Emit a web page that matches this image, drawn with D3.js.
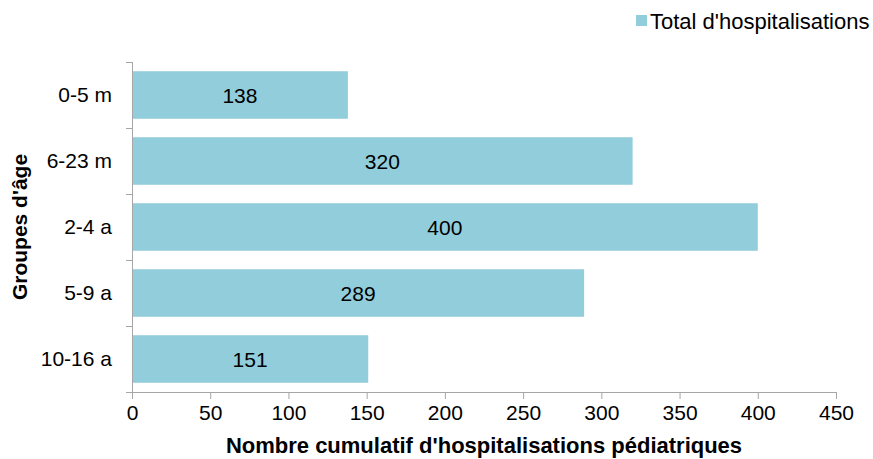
<!DOCTYPE html>
<html>
<head>
<meta charset="utf-8">
<script src="https://cdn.jsdelivr.net/npm/d3@7"></script>
<style>
  body { margin: 0; background: #fff; }
  text { font-family: "Liberation Sans", Arial, sans-serif; }
</style>
</head>
<body>
<div id="chart"></div>
<script>
var categories = ["0-5 m", "6-23 m", "2-4 a", "5-9 a", "10-16 a"];
var values = [138, 320, 400, 289, 151];
var xTicks = [0, 50, 100, 150, 200, 250, 300, 350, 400, 450];
var seriesName = "Total d'hospitalisations";

var margin = { top: 62, right: 37, bottom: 67, left: 132 },
    width = 873 - margin.left - margin.right,
    height = 459 - margin.top - margin.bottom;

var svg = d3.select("#chart")
    .append("svg")
    .attr("width", 873)
    .attr("height", 459);

var g = svg.append("g")
    .attr("transform", "translate(" + margin.left + "," + margin.top + ")");

var xScale = d3.scaleLinear()
    .domain([0, 450])
    .range([0, width]);

var yScale = d3.scaleBand()
    .domain(categories)
    .range([0, height])
    .paddingInner(0.28)
    .paddingOuter(0.14);

var axisColor = "#a6a6a6";

// bars
g.selectAll(".bar")
    .data(values)
    .enter()
    .append("rect")
    .attr("class", "bar")
    .attr("x", xScale(0))
    .attr("y", function(d, i) { return yScale(categories[i]); })
    .attr("width", function(d) { return xScale(d) - xScale(0); })
    .attr("height", yScale.bandwidth())
    .attr("fill", "#92cddc");

// value labels
g.selectAll(".label")
    .data(values)
    .enter()
    .append("text")
    .attr("class", "label")
    .attr("x", function(d) { return xScale(d / 2); })
    .attr("y", function(d, i) { return yScale(categories[i]) + yScale.bandwidth() / 2; })
    .attr("dy", "0.36em")
    .attr("text-anchor", "middle")
    .style("font-size", "21px")
    .style("fill", "#000")
    .text(function(d) { return d; });

// x axis
var xAxis = g.append("g")
    .attr("transform", "translate(0," + height + ")")
    .call(d3.axisBottom(xScale).tickValues(xTicks).tickSize(7).tickSizeOuter(0).tickPadding(6));
xAxis.select(".domain").attr("stroke", axisColor).attr("d", "M-6,0.5H" + width);
xAxis.selectAll(".tick line").attr("stroke", axisColor);
xAxis.selectAll(".tick text").style("font-size", "21px").attr("fill", "#000");

// y axis: ticks at category boundaries
var yAxis = g.append("g");
yAxis.append("line")
    .attr("x1", 0.5).attr("x2", 0.5)
    .attr("y1", 0).attr("y2", height)
    .attr("stroke", axisColor);
var step = yScale.step();
var bounds = categories.map(function(c) { return yScale(c) - step * yScale.paddingInner() / 2; });
yAxis.selectAll(".ytick")
    .data(bounds)
    .enter()
    .append("line")
    .attr("x1", -6).attr("x2", 0)
    .attr("y1", function(d) { return Math.round(d) + 0.5; })
    .attr("y2", function(d) { return Math.round(d) + 0.5; })
    .attr("stroke", axisColor);
yAxis.selectAll(".ylabel")
    .data(categories)
    .enter()
    .append("text")
    .attr("x", -20)
    .attr("y", function(d) { return yScale(d) + yScale.bandwidth() / 2; })
    .attr("dy", "0.35em")
    .attr("text-anchor", "end")
    .style("font-size", "21px")
    .text(function(d) { return d; });

// axis titles
svg.append("text")
    .attr("x", 484)
    .attr("y", 453)
    .attr("text-anchor", "middle")
    .attr("font-weight", "bold")
    .style("font-size", "22px")
    .text("Nombre cumulatif d'hospitalisations pédiatriques");

svg.append("text")
    .attr("transform", "translate(27," + (margin.top + height / 2) + ") rotate(-90)")
    .attr("text-anchor", "middle")
    .attr("font-weight", "bold")
    .style("font-size", "21px")
    .text("Groupes d'âge");

// legend
var legend = svg.append("g").attr("transform", "translate(636,15)");
legend.append("rect")
    .attr("x", 0).attr("y", 0)
    .attr("width", 11).attr("height", 11)
    .attr("fill", "#92cddc");
legend.append("text")
    .attr("x", 14)
    .attr("y", 6)
    .attr("dy", "0.35em")
    .style("font-size", "22px")
    .text(seriesName);
</script>
</body>
</html>
